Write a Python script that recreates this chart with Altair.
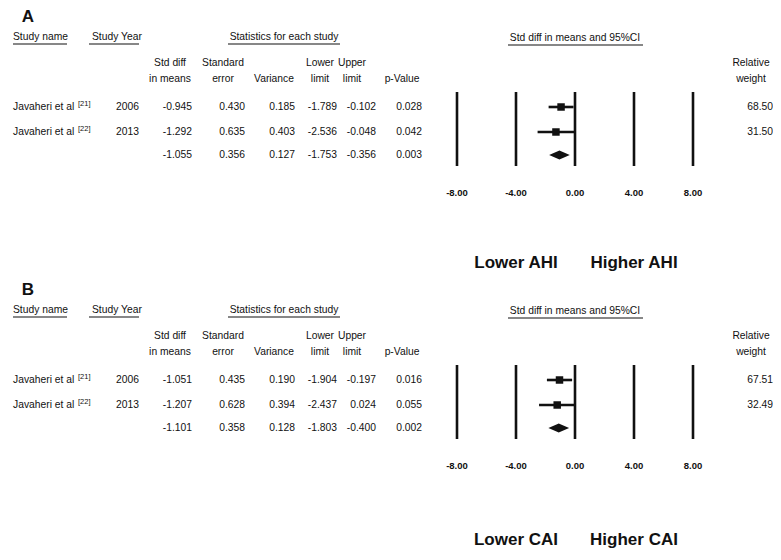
import altair as alt
import pandas as pd

# ---------------- data ----------------
panel_letters = ["A", "B"]
study_names = ["Javaheri et al", "Javaheri et al"]
study_refs = ["[21]", "[22]"]
study_years = ["2006", "2013"]

# rows: study 1, study 2, pooled
std_diff_A = [-0.945, -1.292, -1.055]
std_err_A = [0.430, 0.635, 0.356]
variance_A = [0.185, 0.403, 0.127]
lower_A = [-1.789, -2.536, -1.753]
upper_A = [-0.102, -0.048, -0.356]
p_value_A = [0.028, 0.042, 0.003]
weight_A = [68.50, 31.50]
outcome_A = ["Lower AHI", "Higher AHI"]

std_diff_B = [-1.051, -1.207, -1.101]
std_err_B = [0.435, 0.628, 0.358]
variance_B = [0.190, 0.394, 0.128]
lower_B = [-1.904, -2.437, -1.803]
upper_B = [-0.197, 0.024, -0.400]
p_value_B = [0.016, 0.055, 0.002]
weight_B = [67.51, 32.49]
outcome_B = ["Lower CAI", "Higher CAI"]

axis_ticks = [-8, -4, 0, 4, 8]
outcome_pos = [-4, 4]

header_left = ["Study name", "Study Year"]
header_stats = "Statistics for each study"
header_forest = "Std diff in means and 95%CI"
col_headers = [["Std diff", "in means"], ["Standard", "error"], ["", "Variance"],
               ["Lower", "limit"], ["Upper", "limit"], ["", "p-Value"]]
weight_header = ["Relative", "weight"]

# ---------------- layout ----------------
W, H = 765, 544
INK = "#111111"
FONT = "Liberation Sans, Arial, sans-serif"
FS = 10.3

panel_dy = [0, 273]
outcome_y = [255, 532]
name_x, ref_x, year_x = 5, 70, 131
header_left_x = [5, 84]
underline_left = [(5, 59), (81, 131)]
stats_cx, stats_ul = 276, (220, 332)
forest_cx, forest_ul = 567, (500, 635)
header_y, underline_y = 29, 36
sub_y = [55, 71]
col_cx = [162, 215, 266, 312, 344, 394]
col_right = [184, 237, 287, 329, 368, 414]
weight_cx, weight_right = 743, 765
row_y = [99, 124, 147]
forest_y = (84, 158)
tick_label_y = 185
letter_xy = (20, 14)

xpix = alt.Scale(domain=[0, W], range=[0, W])
ypix = alt.Scale(domain=[0, H], range=[0, H])
xfor = alt.Scale(domain=[-8, 8], range=[449, 685])


def XP(f):
    return alt.X(f"{f}:Q", scale=xpix, axis=None)


def XF(f):
    return alt.X(f"{f}:Q", scale=xfor, axis=None)


def YP(f):
    return alt.Y(f"{f}:Q", scale=ypix, axis=None)


def text(rows, align, size, weight="normal", forest=False, baseline="middle"):
    df = pd.DataFrame(rows, columns=["t", "x", "y"])
    return alt.Chart(df).mark_text(
        align=align, baseline=baseline, fontSize=size, fontWeight=weight,
        font=FONT, color=INK
    ).encode(x=XF("x") if forest else XP("x"), y=YP("y"), text="t:N")


layers = []
panels = [
    (std_diff_A, std_err_A, variance_A, lower_A, upper_A, p_value_A, weight_A, outcome_A),
    (std_diff_B, std_err_B, variance_B, lower_B, upper_B, p_value_B, weight_B, outcome_B),
]

for pi, (sd, se, va, lo, up, pv, wt, oc) in enumerate(panels):
    dy = panel_dy[pi]
    # panel letter
    layers.append(text([[panel_letters[pi], letter_xy[0], letter_xy[1] + dy]], "center", 17, "bold",
                       baseline="alphabetic"))
    # headers
    layers.append(text([[h, header_left_x[i], header_y + dy] for i, h in enumerate(header_left)], "left", FS))
    layers.append(text([[header_stats, stats_cx, header_y + dy], [header_forest, forest_cx, header_y + 1 + dy]],
                       "center", FS))
    ul = pd.DataFrame(
        [[a, b, underline_y + dy] for a, b in underline_left] +
        [[stats_ul[0], stats_ul[1], underline_y + dy], [forest_ul[0], forest_ul[1], underline_y + 1 + dy]],
        columns=["x", "x2", "y"])
    layers.append(alt.Chart(ul).mark_rule(color=INK, strokeWidth=1.2).encode(x=XP("x"), x2="x2:Q", y=YP("y")))
    # column headers
    ch = []
    for ci, lines in enumerate(col_headers):
        for li, s in enumerate(lines):
            if s:
                ch.append([s, col_cx[ci], sub_y[li] + dy])
    for li, s in enumerate(weight_header):
        ch.append([s, weight_cx, sub_y[li] + dy])
    layers.append(text(ch, "center", FS))
    # study names, refs, years
    layers.append(text([[study_names[i], name_x, row_y[i] + dy] for i in range(2)], "left", FS))
    layers.append(text([[study_refs[i], ref_x, row_y[i] - 3 + dy] for i in range(2)], "left", 7.5))
    layers.append(text([[study_years[i], year_x, row_y[i] + dy] for i in range(2)], "right", FS))
    # statistics
    vals = []
    for r in range(3):
        for ci, arr in enumerate([sd, se, va, lo, up, pv]):
            vals.append([f"{arr[r]:.3f}", col_right[ci], row_y[r] + dy])
    for r in range(2):
        vals.append([f"{wt[r]:.2f}", weight_right, row_y[r] + dy])
    layers.append(text(vals, "right", FS))
    # forest vertical lines
    vl = pd.DataFrame({"x": axis_ticks, "y": forest_y[0] + dy, "y2": forest_y[1] + dy})
    layers.append(alt.Chart(vl).mark_rule(color=INK, strokeWidth=2.6).encode(x=XF("x"), y=YP("y"), y2="y2:Q"))
    layers.append(text([[f"{t:.2f}", t, tick_label_y + dy] for t in axis_ticks], "center", 9.5, "bold",
                       forest=True))
    # CIs and squares
    ci_df = pd.DataFrame({"lo": lo[:2], "up": up[:2], "est": sd[:2], "y": [row_y[0] + dy, row_y[1] + dy]})
    layers.append(alt.Chart(ci_df).mark_rule(color=INK, strokeWidth=2.6).encode(x=XF("lo"), x2="up:Q", y=YP("y")))
    layers.append(alt.Chart(ci_df).mark_square(color=INK, opacity=1, size=56).encode(x=XF("est"), y=YP("y")))
    # pooled diamond
    yc = row_y[2] + dy
    dm = pd.DataFrame({"x": [lo[2], sd[2], up[2]], "yt": [yc, yc - 4.5, yc], "yb": [yc, yc + 4.5, yc]})
    layers.append(alt.Chart(dm).mark_area(color=INK, opacity=1).encode(x=XF("x"), y=YP("yt"), y2="yb:Q"))
    # outcome labels
    layers.append(text([[oc[i], outcome_pos[i], outcome_y[pi]] for i in range(2)], "center", 17, "bold",
                       forest=True))

chart = alt.layer(*layers).resolve_scale(x="independent").properties(
    width=W, height=H, padding=0, autosize=alt.AutoSizeParams(type="none")
).configure_view(stroke=None)

chart.save("out.html", embed_options={"renderer": "svg", "actions": False})
